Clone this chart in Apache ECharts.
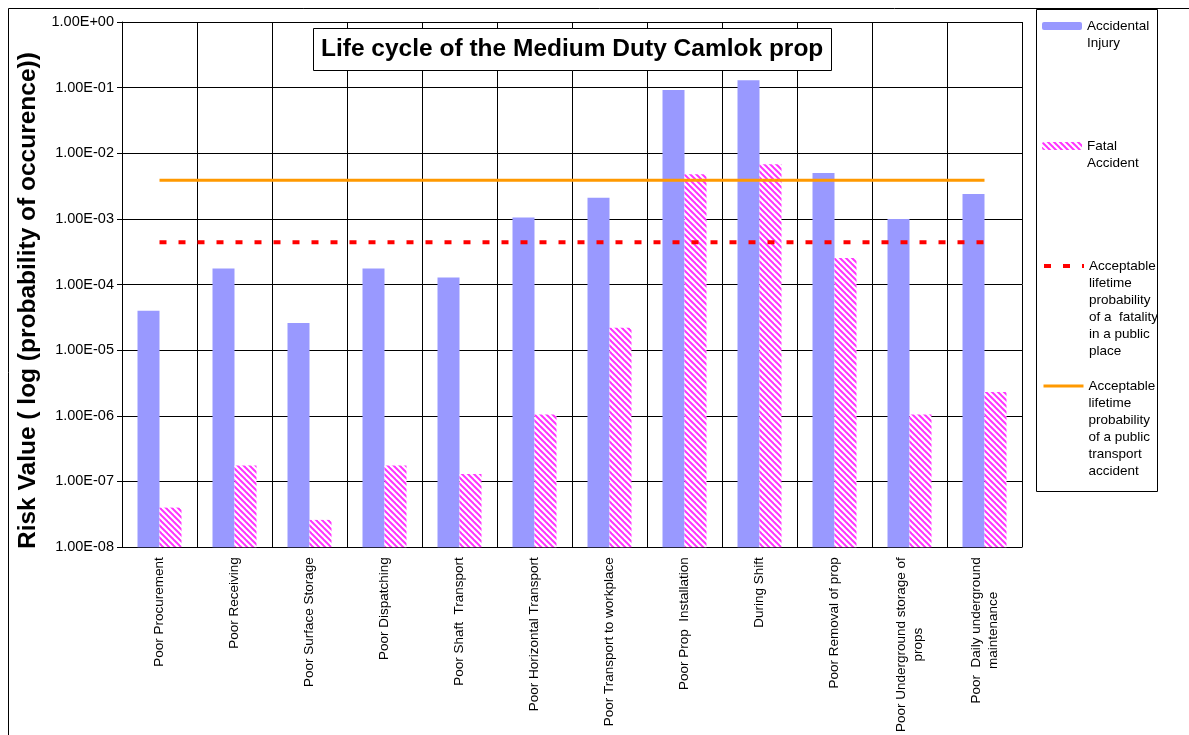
<!DOCTYPE html>
<html lang="en">
<head>
  <meta charset="UTF-8">
  <title>Life cycle of the Medium Duty Camlok prop</title>
  <script src="https://cdn.jsdelivr.net/npm/echarts@6/dist/echarts.min.js"></script>
  <style>
    html, body { margin: 0; padding: 0; background: #fff; }
  </style>
</head>
<body>
  <div id="chart" style="width: 1189px; height: 735px;"></div>

  <script>
    // data
    const categories = [
      'Poor Procurement',
      'Poor Receiving',
      'Poor Surface Storage',
      'Poor Dispatching',
      'Poor Shaft  Transport',
      'Poor Horizontal Transport',
      'Poor Transport to workplace',
      'Poor Prop  Installation',
      'During Shift',
      'Poor Removal of prop',
      'Poor Underground storage of\nprops',
      'Poor  Daily underground\nmaintenance'
    ]
    const accidentalInjury = [4.0e-5, 1.75e-4, 2.6e-5, 1.75e-4, 1.28e-4, 1.05e-3, 2.1e-3, 9.2e-2, 1.3e-1, 5.0e-3, 1.0e-3, 2.4e-3]
    const fatalAccident = [4.0e-8, 1.75e-7, 2.6e-8, 1.75e-7, 1.3e-7, 1.05e-6, 2.2e-5, 4.8e-3, 6.8e-3, 2.55e-4, 1.05e-6, 2.3e-6]
    const fatalityLimit = [4.4e-4, 4.4e-4, 4.4e-4, 4.4e-4, 4.4e-4, 4.4e-4, 4.4e-4, 4.4e-4, 4.4e-4, 4.4e-4, 4.4e-4, 4.4e-4]
    const transportLimit = [3.9e-3, 3.9e-3, 3.9e-3, 3.9e-3, 3.9e-3, 3.9e-3, 3.9e-3, 3.9e-3, 3.9e-3, 3.9e-3, 3.9e-3, 3.9e-3]

    const FONT = '"Liberation Sans", Arial, sans-serif'
    const LH = 17

    // hatched fill for the fatal bars
    function hatch() {
      const c = document.createElement('canvas')
      c.width = 6
      c.height = 6
      const g = c.getContext('2d')
      g.fillStyle = '#fff'
      g.fillRect(0, 0, 6, 6)
      g.strokeStyle = '#ff33ff'
      g.lineWidth = 2
      for (let k = -6; k <= 6; k += 6) {
        g.beginPath()
        g.moveTo(k - 1, -1)
        g.lineTo(k + 7, 7)
        g.stroke()
      }
      return c
    }

    function sci(v) {
      const parts = v.toExponential(2).split('e')
      const e = parseInt(parts[1], 10)
      return parts[0] + 'E' + (e < 0 ? '-' : '+') + String(Math.abs(e)).padStart(2, '0')
    }

    // legend item: symbol sits on the first text line (blank lines above keep it centred there)
    function legendItem(name, text, symbolY, lineWidth) {
      const n = text.split('\n').length
      const item = {
        data: [name],
        orient: 'vertical',
        left: 1042,
        top: symbolY - (2 * n - 1) * LH / 2,
        padding: 0,
        itemWidth: 40,
        itemHeight: 8,
        formatter: () => '\n'.repeat(n - 1) + text,
        textStyle: { fontFamily: FONT, fontSize: 13.5, color: '#000', lineHeight: LH }
      }
      if (lineWidth) {
        item.itemStyle = { opacity: 0 }
        item.lineStyle = { width: lineWidth }
      }
      return item
    }

    const chart = echarts.init(document.getElementById('chart'), null, { renderer: 'canvas' })
    chart.setOption({
      backgroundColor: '#fff',
      animation: false,
      title: {
        text: 'Life cycle of the Medium Duty Camlok prop',
        left: 313,
        top: 28,
        padding: [9, 8, 9, 8],
        borderColor: '#000',
        borderWidth: 1,
        backgroundColor: '#fff',
        textStyle: { fontFamily: FONT, fontSize: 24.5, fontWeight: 'bold', color: '#000' }
      },
      legend: [
        legendItem('Accidental Injury', 'Accidental\nInjury', 26, 0),
        legendItem('Fatal Accident', 'Fatal\nAccident', 146, 0),
        legendItem('Acceptable lifetime probability of a  fatality in a public place',
          'Acceptable\nlifetime\nprobability\nof a  fatality\nin a public\nplace', 266, 4),
        legendItem('Acceptable lifetime probability of a public transport accident',
          'Acceptable\nlifetime\nprobability\nof a public\ntransport\naccident', 386, 3)
      ],
      graphic: [
        {
          type: 'rect', silent: true,
          shape: { x: 8.5, y: 8.5, width: 1400, height: 1000 },
          style: { fill: null, stroke: '#000', lineWidth: 1 }
        },
        {
          type: 'rect', silent: true,
          shape: { x: 1036.5, y: 9.5, width: 121, height: 482 },
          style: { fill: null, stroke: '#000', lineWidth: 1 }
        }
      ],
      grid: { left: 122, top: 22, right: 167, bottom: 187 },
      xAxis: {
        type: 'category',
        data: categories,
        axisLine: { lineStyle: { color: '#000', width: 1 } },
        axisTick: { alignWithLabel: true, length: 5, lineStyle: { color: '#000' } },
        splitLine: { show: true, lineStyle: { color: '#000', width: 1 } },
        axisLabel: {
          interval: 0,
          rotate: 90,
          margin: 10,
          color: '#000',
          fontFamily: FONT,
          fontSize: 13.5,
          lineHeight: LH,
          formatter: (v) => v.split('\n').map(s => '{c|' + s + '}').join('\n'),
          rich: { c: { align: 'center', fontFamily: FONT, fontSize: 13.5, color: '#000', lineHeight: LH } }
        }
      },
      yAxis: {
        type: 'log',
        logBase: 10,
        min: 1e-8,
        max: 1,
        startValue: 1e-8,
        splitNumber: 8,
        name: 'Risk Value ( log (probability of occurence))',
        nameLocation: 'middle',
        nameRotate: 90,
        nameGap: 77,
        nameTextStyle: {
          fontFamily: FONT, fontSize: 24.5, fontWeight: 'bold', color: '#000',
          padding: [0, 32, 0, 0]
        },
        axisLine: { show: true, lineStyle: { color: '#000', width: 1 } },
        axisTick: { show: true, length: 5, lineStyle: { color: '#000' } },
        splitLine: { show: true, lineStyle: { color: '#000', width: 1 } },
        axisLabel: { color: '#000', fontFamily: FONT, fontSize: 14.5, margin: 8, formatter: sci }
      },
      series: [
        {
          name: 'Accidental Injury',
          type: 'bar',
          data: accidentalInjury,
          barWidth: 22,
          barGap: '0%',
          itemStyle: { color: '#9999ff' }
        },
        {
          name: 'Fatal Accident',
          type: 'bar',
          data: fatalAccident,
          barWidth: 22,
          barGap: '0%',
          itemStyle: { color: { image: hatch(), repeat: 'repeat' } }
        },
        {
          name: 'Acceptable lifetime probability of a  fatality in a public place',
          type: 'line',
          data: fatalityLimit,
          symbol: 'none',
          z: 5,
          lineStyle: { color: '#ff0000', width: 4, type: [7, 12] },
          itemStyle: { color: '#ff0000' }
        },
        {
          name: 'Acceptable lifetime probability of a public transport accident',
          type: 'line',
          data: transportLimit,
          symbol: 'none',
          z: 5,
          lineStyle: { color: '#ff9900', width: 3 },
          itemStyle: { color: '#ff9900' }
        }
      ]
    })
  </script>
</body>
</html>
